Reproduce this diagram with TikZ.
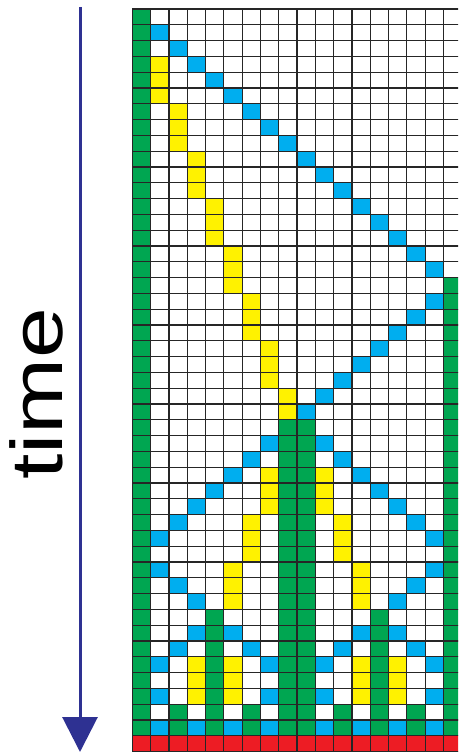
\documentclass[tikz,border=0pt]{standalone}
\usepackage{fontspec}
\setmainfont{Liberation Sans}
\usetikzlibrary{arrows.meta}
\definecolor{CellGreen}{RGB}{0,166,81}
\definecolor{CellBlue}{RGB}{0,174,239}
\definecolor{CellYellow}{RGB}{255,242,0}
\definecolor{CellRed}{RGB}{237,28,36}
\definecolor{TimeBlue}{RGB}{46,49,146}

\begin{document}
\begin{tikzpicture}[
  x=1pt, y=-1pt,
  gridline/.style={draw=black!85, line width=1.2pt},
  timearrow/.style={-{Triangle[width=35pt,length=35pt]}, line width=3pt, draw=TimeBlue, fill=TimeBlue},
  timelabel/.style={rotate=90, anchor=base, inner sep=0pt, font=\fontsize{73}{73}\selectfont}
]
\useasboundingbox (0,0) rectangle (458,752);
\clip (0,0) rectangle (458,752);

% time axis
\coordinate (ttop) at (80,7);
\coordinate (tbot) at (80,752);
\draw[timearrow] (ttop) -- (tbot);
\node[timelabel] (time) at (62,393.5) {\scalebox{1.25}[1]{time}};

% cells: column = cell, row = time step
\begin{scope}[shift={(132.3,9)}, x=18.3pt, y=-15.8pt]
  % green
  \fill[CellGreen] (0,0) rectangle (1,46);
  \fill[CellGreen] (17,17) rectangle (18,46);
  \fill[CellGreen] (8,26) rectangle (10,46);
  \fill[CellGreen] (4,38) rectangle (5,46);
  \fill[CellGreen] (13,38) rectangle (14,46);
  \foreach \c in {2,6,11,15}
    \fill[CellGreen] (\c,44) rectangle ++(1,2);
  % blue
  \foreach \r/\cs in {1/{1},2/{2},3/{3},4/{4},5/{5},6/{6},7/{7},8/{8},9/{9},
      10/{10},11/{11},12/{12},13/{13},14/{14},15/{15},16/{16},18/{16},19/{15},
      20/{14},21/{13},22/{12},23/{11},24/{10},25/{9},27/{7,10},28/{6,11},
      29/{5,12},30/{4,13},31/{3,14},32/{2,15},33/{1,16},35/{1,16},36/{2,15},
      37/{3,14},39/{3,5,12,14},40/{2,6,11,15},41/{1,7,10,16},43/{1,7,10,16},
      45/{1,3,5,7,10,12,14,16}}
    \foreach \c in \cs
      \fill[CellBlue] (\c,\r) rectangle ++(1,1);
  % yellow
  \foreach \r/\cs in {3/{1},4/{1},5/{1},6/{2},7/{2},8/{2},9/{3},10/{3},11/{3},
      12/{4},13/{4},14/{4},15/{5},16/{5},17/{5},18/{6},19/{6},20/{6},21/{7},
      22/{7},23/{7},24/{8},25/{8},29/{7,10},30/{7,10},31/{7,10},32/{6,11},
      33/{6,11},34/{6,11},35/{5,12},36/{5,12},37/{5,12},41/{3,5,12,14},
      42/{3,5,12,14},43/{3,5,12,14}}
    \foreach \c in \cs
      \fill[CellYellow] (\c,\r) rectangle ++(1,1);
  % red
  \fill[CellRed] (0,46) rectangle (18,47);
  % grid
  \foreach \c in {0,...,18}
    \draw[gridline] (\c,0) -- (\c,47);
  \foreach \r in {0,...,47}
    \draw[gridline] (0,\r) -- (18,\r);
\end{scope}
\end{tikzpicture}
\end{document}
